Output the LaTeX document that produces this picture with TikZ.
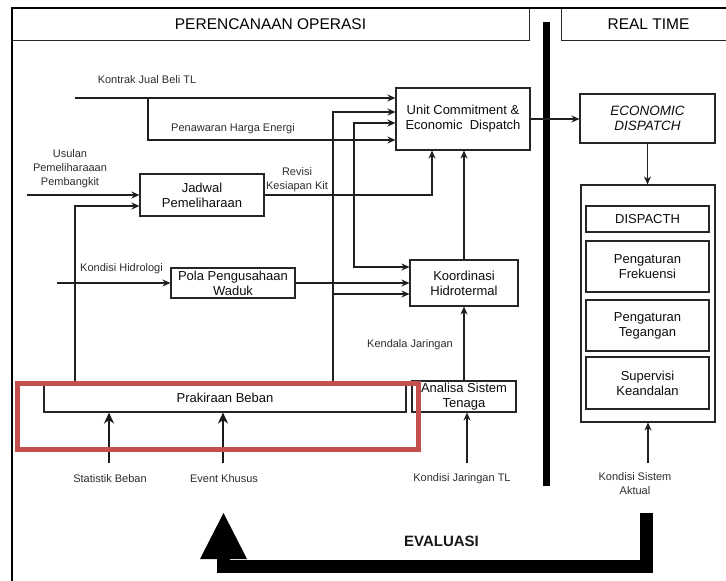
\documentclass[tikz,border=0pt]{standalone}
\usepackage{fontspec}
\setmainfont{Liberation Sans}
\usetikzlibrary{arrows.meta,calc}
\definecolor{hlred}{RGB}{195,80,78}
\begin{document}
\begin{tikzpicture}[x=1pt,y=-1pt,
  wh/.style 2 args={minimum width=#1pt, minimum height=#2pt},
  box/.style={draw=black!85, line width=1.1pt, rectangle, inner sep=0pt, align=center,
              font=\fontsize{13}{15}\selectfont, text=black!95},
  hdr/.style={draw=black!85, line width=1pt, rectangle, inner sep=0pt, align=center,
              font=\fontsize{15.5}{18}\selectfont, text=black},
  lbl/.style={inner sep=0pt, align=center, font=\fontsize{11}{14}\selectfont, text=black!82},
  conn/.style={draw=black!88, line width=1.1pt, -{Stealth[length=8pt,width=7pt]}},
  connboth/.style={draw=black!88, line width=1.1pt, {Stealth[length=8pt,width=7pt]}-{Stealth[length=8pt,width=7pt]}},
  connB/.style={draw=black!90, line width=2pt, -{Stealth[length=11pt,width=10pt]}},
]
\useasboundingbox (0,0) rectangle (726,581);
\clip (0,0) rectangle (726,581);
\fill[white] (0,0) rectangle (726,581);

% frame and headers
\node[hdr, wh={517}{32}] (hL) at (270.5,24) {PERENCANAAN OPERASI};
\node[hdr, wh={175}{32}] (hR) at (648.5,24) {REAL TIME};
\draw[line width=2.5pt, black] (12,581) -- (12,8) -- (740,8);
\draw[line width=7pt, black] (546.5,22) -- (546.5,486);

% planning boxes
\node[box, wh={134}{62}] (UC) at (463,119) {Unit Commitment \&\\Economic\ \ Dispatch};
\node[box, wh={124}{42}] (Jad) at (202,195) {Jadwal\\Pemeliharaan};
\node[box, wh={124}{30}] (Pola) at (233,283) {Pola Pengusahaan\\Waduk};
\node[box, wh={108}{46}] (Koo) at (464,283) {Koordinasi\\Hidrotermal};
\node[box, wh={104}{31}] (Ana) at (464,396.5) {Analisa Sistem\\Tenaga};
\node[box, wh={362}{28}] (Prak) at (225,398) {Prakiraan Beban};

% real time boxes
\node[box, wh={135}{49}, font=\fontsize{13.5}{15}\selectfont\itshape] (ED) at (647.5,118.5) {ECONOMIC\\DISPATCH};
\node[box, wh={134}{237}] (RT) at (648,303.5) {};
\node[box, wh={123}{26}] (Dis) at (647.5,219) {DISPACTH};
\node[box, wh={123}{51}] (Frek) at (647.5,266.5) {Pengaturan\\Frekuensi};
\node[box, wh={123}{51}] (Teg) at (647.5,325.5) {Pengaturan\\Tegangan};
\node[box, wh={123}{52}] (Sup) at (647.5,383) {Supervisi\\Keandalan};

% labels
\node[lbl] (lKon) at (147,80) {Kontrak Jual Beli TL};
\node[lbl] (lPen) at (233,129) {Penawaran Harga Energi};
\node[lbl] (lUsu) at (70,169) {Usulan\\Pemeliharaaan\\Pembangkit};
\node[lbl] (lRev) at (297,180) {Revisi\\Kesiapan Kit};
\node[lbl] (lHid) at (121.5,269) {Kondisi Hidrologi};
\node[lbl] (lKen) at (410,345) {Kendala Jaringan};
\node[lbl] (lSta) at (110,479) {Statistik Beban};
\node[lbl] (lEve) at (224,479) {Event Khusus};
\node[lbl] (lJar) at (462,479) {Kondisi Jaringan TL};
\node[lbl] (lAkt) at (635,484) {Kondisi Sistem\\Aktual};
\node[inner sep=0pt, font=\fontsize{15}{18}\selectfont\bfseries, text=black!90] (lEva) at (441.5,541) {EVALUASI};

% free ends / routing points
\coordinate (k0) at (75,98);
\coordinate (kb) at (148,98);
\coordinate (u0) at (27,195);
\coordinate (h0) at (57,283);
\coordinate (xA) at (75,0);
\coordinate (xB) at (333,0);
\coordinate (xR) at (432,0);
\coordinate (b1) at (333,294);
\coordinate (c1) at (354,267);
\coordinate (j0) at (467,463);
\coordinate (s0) at (109,463);
\coordinate (v0) at (223,463);
\coordinate (a0) at (648,463);

% connectors
\draw[conn] (k0) -- (k0 -| UC.west);
\draw[conn] (kb) |- ($(UC.west)+(0,21)$);
\draw[conn] (u0) -- (Jad.west);
\draw[conn] (Prak.north -| xA) |- ($(Jad.west)+(0,11)$);
\draw[conn] (Jad.east) -| (UC.south -| xR);
\draw[conn] (Prak.north -| xB) |- ($(UC.west)+(0,-7)$);
\draw[conn] (b1) -- (b1 -| Koo.west);
\draw[connboth] ($(UC.west)+(0,4)$) -| (c1) -- (c1 -| Koo.west);
\draw[conn] (h0) -- (h0 -| Pola.west);
\draw[conn] (Pola.east) -- (Pola.east -| Koo.west);
\draw[conn] (Koo.north) -- (Koo.north |- UC.south);
\draw[conn] (Ana.north) -- (Ana.north |- Koo.south);
\draw[conn] (j0) -- (j0 |- Ana.south);
\draw[connB] (s0) -- (s0 |- Prak.south);
\draw[connB] (v0) -- (v0 |- Prak.south);
\draw[conn] (UC.east) -- (UC.east -| ED.west);
\draw[conn] (ED.south) -- (ED.south |- RT.north);
\draw[conn] (a0) -- (a0 |- RT.south);

% highlight
\node[draw=hlred, line width=5pt, rectangle, inner sep=0pt, wh={401}{65.5}] (hl) at (218,416.25) {};

% evaluation arrow
\coordinate (e0) at (646.5,513);
\coordinate (e1) at (646.5,566.5);
\coordinate (e2) at (223.5,566.5);
\coordinate (e3) at (223.5,556);
\draw[line width=12.5pt, black, line join=miter] (e0) -- (e1) -- (e2) -- (e3);
\coordinate (eT) at (223.5,513);
\fill[black] (eT) -- (247,559) -- (200,559) -- cycle;
\end{tikzpicture}
\end{document}
